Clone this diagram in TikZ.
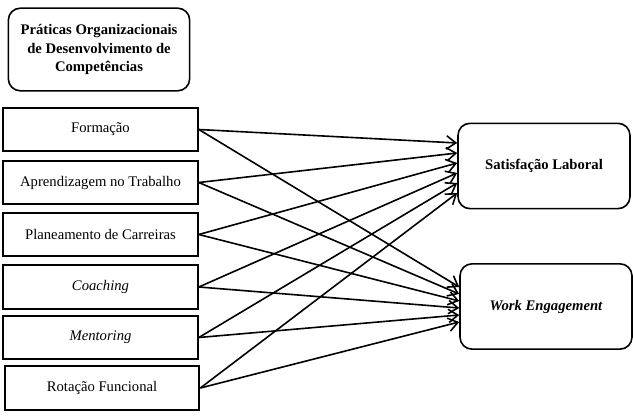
\documentclass[tikz,border=0pt]{standalone}
\usepackage{fontspec}
\setmainfont{Liberation Serif}
\usetikzlibrary{arrows.meta}
\begin{document}
\begin{tikzpicture}[x=0.75pt,y=-0.75pt,
  practice/.style={shape=rectangle,draw=black,line width=1.5pt,minimum width=146pt,minimum height=32.5pt,font=\fontsize{11}{13}\selectfont,inner sep=0pt},
  outcome/.style={shape=rectangle,rounded corners=9pt,draw=black,line width=1.2pt,minimum width=129pt,minimum height=64pt,font=\bfseries\fontsize{11}{13}\selectfont},
  link/.style={draw=black,line width=1.2pt,-{Straight Barb[length=7pt,width=10pt,line width=1.2pt]}}]
\useasboundingbox (0,0) rectangle (633,420);

\node[shape=rectangle,rounded corners=9pt,draw=black,line width=1.2pt,minimum width=136pt,minimum height=62pt,align=center,font=\bfseries\fontsize{11}{14}\selectfont] (title) at (99,49.5) {Práticas Organizacionais\\de Desenvolvimento de\\Competências};

\node[practice] (form) at (100.5,129.5) {Formação};
\node[practice] (apr) at (100.5,182.5) {Aprendizagem no Trabalho};
\node[practice] (plan) at (100.5,234.5) {Planeamento de Carreiras};
\node[practice] (coach) at (100.5,287) {\itshape Coaching};
\node[practice] (ment) at (100.5,337.5) {\itshape Mentoring};
\node[practice] (rot) at (102,388) {Rotação Funcional};

\node[outcome] (sat) at (544,166) {Satisfação Laboral};
\node[outcome] (work) at (546,306.5) {\itshape Work Engagement};

\path (form.east) edge[link] ([shift={(0,-23)}]sat.west);
\path (apr.east) edge[link] ([shift={(0,-13)}]sat.west);
\path (plan.east) edge[link] ([shift={(0,-3)}]sat.west);
\path (coach.east) edge[link] ([shift={(0,7)}]sat.west);
\path (ment.east) edge[link] ([shift={(0,17)}]sat.west);
\path (rot.east) edge[link] ([shift={(0,27)}]sat.west);

\path (form.east) edge[link] ([shift={(0,-19.5)}]work.west);
\path (apr.east) edge[link] ([shift={(0,-12.5)}]work.west);
\path (plan.east) edge[link] ([shift={(0,-5.5)}]work.west);
\path (coach.east) edge[link] ([shift={(0,1.5)}]work.west);
\path (ment.east) edge[link] ([shift={(0,8.5)}]work.west);
\path (rot.east) edge[link] ([shift={(0,15.5)}]work.west);
\end{tikzpicture}
\end{document}
